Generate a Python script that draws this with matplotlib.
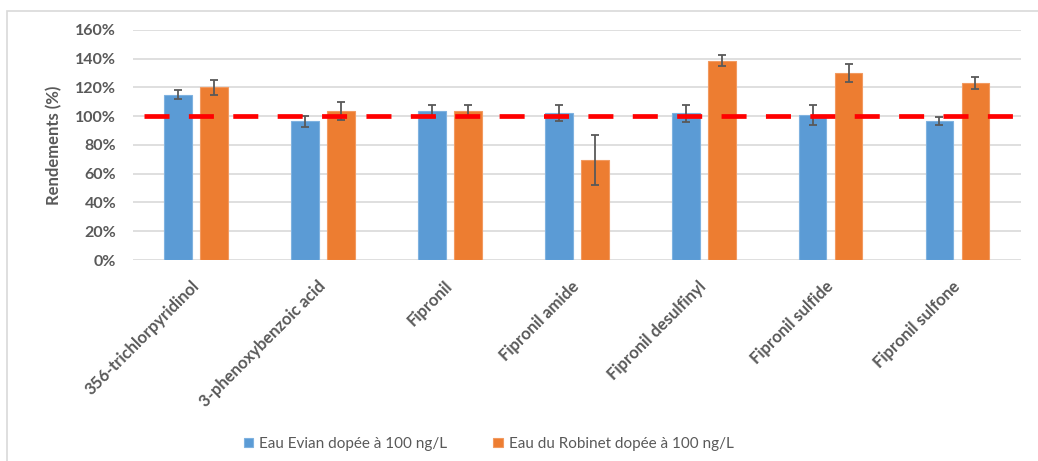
import matplotlib.pyplot as plt
import numpy as np
from matplotlib.patches import Rectangle
from matplotlib.ticker import PercentFormatter

plt.rcParams['font.family'] = ['Lato', 'DejaVu Sans']

compounds = ['356-trichlorpyridinol', '3-phenoxybenzoic acid', 'Fipronil',
             'Fipronil amide', 'Fipronil desulfinyl', 'Fipronil sulfide',
             'Fipronil sulfone']
evian = [115, 96.5, 103.6, 102.5, 102, 101.1, 96.7]
evian_err = [3, 4, 4, 5.5, 6, 7, 2.6]
robinet = [120, 103.6, 103.6, 69.6, 138.7, 130.1, 123]
robinet_err = [5.5, 6.5, 4, 17.5, 4, 6.2, 4.3]
series_names = ['Eau Evian dopée à 100 ng/L', 'Eau du Robinet dopée à 100 ng/L']
ref_level = 100

blue = '#5B9BD5'
orange = '#ED7D31'
grey = '#595959'

fig = plt.figure(figsize=(10.38, 4.61), dpi=100)
ax = fig.add_axes([0.128, 0.436, 0.8555, 0.499])

x = np.arange(len(compounds))
w = 0.218
off = 0.142
err_kw = dict(ecolor=grey, elinewidth=1.3, capsize=3.2, capthick=1.3)
ax.bar(x - off, evian, w, yerr=evian_err, color=blue, edgecolor='#7FB2E0',
       linewidth=0.8, error_kw=err_kw, label=series_names[0], zorder=2)
ax.bar(x + off, robinet, w, yerr=robinet_err, color=orange, edgecolor='#F29A60',
       linewidth=0.8, error_kw=err_kw, label=series_names[1], zorder=2)

# ligne de référence à 100 %
ax.plot([0.0124, 0.994], [ref_level, ref_level], transform=ax.get_yaxis_transform(),
        color='#FF0000', linewidth=3.4, dashes=(5.3, 4.1), zorder=4)

ax.set_xlim(-0.5, len(compounds) - 0.5)
ax.set_ylim(0, 160)
ax.set_yticks(np.arange(0, 161, 20))
ax.yaxis.set_major_formatter(PercentFormatter(decimals=0))
ax.grid(axis='y', color='#D9D9D9', linewidth=1.2, zorder=0)
ax.set_axisbelow(True)
for s in ax.spines.values():
    s.set_visible(False)
ax.tick_params(axis='both', length=0, colors=grey)
ax.tick_params(axis='y', pad=12, labelsize=11.5)
for t in ax.get_yticklabels():
    t.set_fontweight('bold')

ax.set_xticks(x)
ax.set_xticklabels(compounds, rotation=45, ha='right', va='center',
                   rotation_mode='anchor', fontweight='bold', fontsize=12)
ax.tick_params(axis='x', pad=17)

ax.set_ylabel('Rendements (%)', color=grey, fontweight='bold', fontsize=12)
ax.yaxis.set_label_coords(-0.08, 0.5)

fig.legend(loc='center', bbox_to_anchor=(0.471, 0.037), ncol=2, frameon=False,
           fontsize=11, handlelength=0.6, handleheight=0.6, handletextpad=0.4,
           columnspacing=3.0, labelcolor=grey)

fig.patches.append(Rectangle((7 / 1038, -0.1), 1.1, 1.1 - 11.5 / 461,
                             transform=fig.transFigure, fill=False,
                             edgecolor='#D9D9D9', linewidth=1.2))

fig.savefig('out.png', dpi=100)
